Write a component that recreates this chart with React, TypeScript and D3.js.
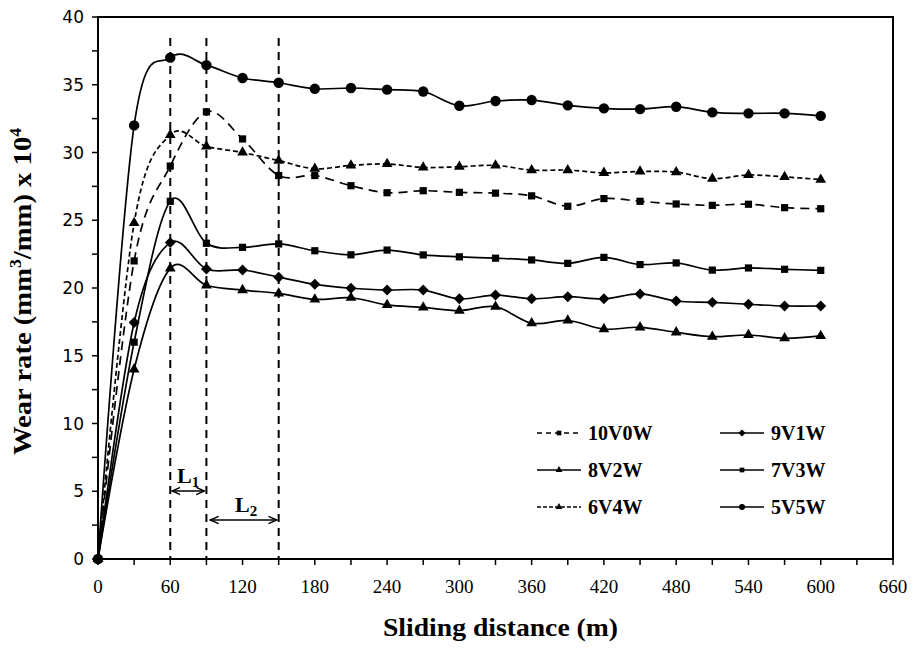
import React from "react";
import * as d3 from "d3";

const DISTANCE = [0, 30, 60, 90, 120, 150, 180, 210, 240, 270, 300, 330, 360, 390, 420, 450, 480, 510, 540, 570, 600];

const S_10V0W = [0, 22.0, 29.0, 33.0, 31.0, 28.3, 28.3, 27.55, 27.03, 27.18, 27.06, 27.0, 26.8, 26.03, 26.6, 26.4, 26.2, 26.1, 26.18, 25.93, 25.85];
const S_9V1W = [0, 17.45, 23.35, 21.4, 21.33, 20.8, 20.27, 19.98, 19.85, 19.85, 19.2, 19.48, 19.2, 19.36, 19.2, 19.56, 19.04, 18.94, 18.8, 18.67, 18.67];
const S_8V2W = [0, 14.0, 21.45, 20.2, 19.85, 19.6, 19.16, 19.28, 18.75, 18.57, 18.33, 18.62, 17.4, 17.6, 16.97, 17.1, 16.73, 16.41, 16.53, 16.29, 16.46];
const S_7V3W = [0, 16.0, 26.4, 23.3, 23.0, 23.25, 22.75, 22.45, 22.8, 22.44, 22.3, 22.2, 22.07, 21.82, 22.26, 21.73, 21.85, 21.32, 21.48, 21.38, 21.3];
const S_6V4W = [0, 24.8, 31.3, 30.45, 30.0, 29.4, 28.8, 29.05, 29.15, 28.9, 28.95, 29.05, 28.7, 28.7, 28.5, 28.6, 28.55, 28.07, 28.34, 28.2, 28.0];
const S_5V5W = [0, 32.0, 37.0, 36.45, 35.5, 35.15, 34.7, 34.76, 34.64, 34.5, 33.45, 33.8, 33.87, 33.48, 33.26, 33.2, 33.38, 32.96, 32.89, 32.89, 32.7];

const SERIES_NAMES = ["10V0W", "9V1W", "8V2W", "7V3W", "6V4W", "5V5W"];
const SERIES_VALUES = [S_10V0W, S_9V1W, S_8V2W, S_7V3W, S_6V4W, S_5V5W];
const SERIES_MARKERS = ["square", "diamond", "triangle", "square", "triangle", "circle"];
const SERIES_DASH = ["9,6", null, null, null, "5,3", null];

const X_TICKS = [0, 60, 120, 180, 240, 300, 360, 420, 480, 540, 600, 660];
const X_MINOR = d3.range(0, 661, 30);
const Y_TICKS = [0, 5, 10, 15, 20, 25, 30, 35, 40];
const Y_MINOR = d3.range(0, 40.01, 2.5);
const REF_LINES = [60, 90, 150];

const W = 913;
const H = 650;
const x = d3.scaleLinear().domain([0, 660]).range([98, 893]);
const y = d3.scaleLinear().domain([0, 40]).range([559, 17]);

function markerPath(kind: string, big: boolean): { d: string; rot: number } {
  if (kind === "circle") return { d: d3.symbol(d3.symbolCircle, big ? 85 : 30)()!, rot: 0 };
  if (kind === "square") return { d: d3.symbol(d3.symbolSquare, big ? 52 : 22)()!, rot: 0 };
  if (kind === "diamond") return { d: d3.symbol(d3.symbolSquare, big ? 60 : 26)()!, rot: 45 };
  return { d: d3.symbol(d3.symbolTriangle, big ? 50 : 20)()!, rot: 0 };
}

const SERIF = "'Liberation Serif', 'Times New Roman', serif";
const SANS = "'DejaVu Sans', Verdana, sans-serif";

export default function App() {
  const line = d3
    .line<number>()
    .x((_, i) => x(DISTANCE[i]))
    .y((v) => y(v))
    .curve(d3.curveCardinal.tension(0));

  const legendRows = [433, 470, 507];
  const legendCols = [537, 720];

  return (
    <svg width={W} height={H} style={{ position: "absolute", left: 0, top: 0, background: "#fff" }}>
      <rect x={0} y={0} width={W} height={H} fill="#fff" />
      {REF_LINES.map((v) => (
        <line key={v} x1={x(v)} x2={x(v)} y1={38} y2={559} stroke="#000" strokeWidth={2} strokeDasharray="8,6" />
      ))}
      {SERIES_VALUES.map((vals, si) => (
        <g key={SERIES_NAMES[si]}>
          <path
            d={line(vals)!}
            fill="none"
            stroke="#000"
            strokeWidth={1.7}
            strokeDasharray={SERIES_DASH[si] || undefined}
          />
          {vals.map((v, i) => {
            const m = markerPath(SERIES_MARKERS[si], true);
            return (
              <path key={i} d={m.d} fill="#000" transform={`translate(${x(DISTANCE[i])},${y(v)}) rotate(${m.rot})`} />
            );
          })}
        </g>
      ))}
      <rect x={x(0)} y={y(40)} width={x(660) - x(0)} height={y(0) - y(40)} fill="none" stroke="#000" strokeWidth={2} />
      {Y_MINOR.map((v) => (
        <line key={"ym" + v} x1={x(0) - 6} x2={x(0)} y1={y(v)} y2={y(v)} stroke="#000" strokeWidth={1.5} />
      ))}
      {Y_TICKS.map((v) => (
        <text key={"yt" + v} x={84} y={y(v)} dy="0.36em" textAnchor="end" fontFamily={SANS} fontSize={17} fill="#000">
          {v}
        </text>
      ))}
      {X_MINOR.map((v) => (
        <line key={"xm" + v} x1={x(v)} x2={x(v)} y1={y(0)} y2={y(0) + 6} stroke="#000" strokeWidth={1.5} />
      ))}
      {X_TICKS.map((v) => (
        <text key={"xt" + v} x={x(v)} y={593} textAnchor="middle" fontFamily={SERIF} fontSize={19} fill="#000">
          {v}
        </text>
      ))}
      <text
        x={383}
        y={636}
        textLength={235}
        lengthAdjust="spacingAndGlyphs"
        fontFamily={SERIF}
        fontWeight="bold"
        fontSize={26}
        fill="#000"
      >
        Sliding distance (m)
      </text>
      <text
        transform={`translate(31,${455}) rotate(-90)`}
        textLength={327}
        lengthAdjust="spacingAndGlyphs"
        fontFamily={SERIF}
        fontWeight="bold"
        fontSize={26}
        fill="#000"
      >
        Wear rate (mm
        <tspan fontSize={16} dy={-10}>3</tspan>
        <tspan dy={10}>/mm) x 10</tspan>
        <tspan fontSize={16} dy={-10}>4</tspan>
      </text>
      <defs>
        <marker id="ah" viewBox="0 0 10 10" refX={9} refY={5} markerWidth={7} markerHeight={7} orient="auto-start-reverse">
          <path d="M0,1 L9,5 L0,9" fill="none" stroke="#000" strokeWidth={1.6} />
        </marker>
      </defs>
      <line x1={x(60) + 2} x2={x(90) - 2} y1={491} y2={491} stroke="#000" strokeWidth={1.3} markerStart="url(#ah)" markerEnd="url(#ah)" />
      <line x1={x(90) + 4} x2={x(150) - 2} y1={520} y2={520} stroke="#000" strokeWidth={1.3} markerStart="url(#ah)" markerEnd="url(#ah)" />
      <text x={177} y={483} fontFamily={SERIF} fontWeight="bold" fontSize={22} fill="#000">
        L<tspan fontSize={15} dy={4}>1</tspan>
      </text>
      <text x={235} y={512} fontFamily={SERIF} fontWeight="bold" fontSize={22} fill="#000">
        L<tspan fontSize={15} dy={4}>2</tspan>
      </text>
      {SERIES_NAMES.map((name, si) => {
        const col = si % 2;
        const row = Math.floor(si / 2);
        const lx = legendCols[col];
        const ly = legendRows[row];
        const m = markerPath(SERIES_MARKERS[si], false);
        return (
          <g key={"lg" + name}>
            <line
              x1={lx}
              x2={lx + 44}
              y1={ly}
              y2={ly}
              stroke="#000"
              strokeWidth={1.7}
              strokeDasharray={SERIES_DASH[si] ? (si === 0 ? "5,4" : "4,2") : undefined}
            />
            <path d={m.d} fill="#000" transform={`translate(${lx + 22},${ly}) rotate(${m.rot})`} />
            <text x={lx + 51} y={ly} dy="0.34em" fontFamily={SERIF} fontWeight="bold" fontSize={20} fill="#000">
              {name}
            </text>
          </g>
        );
      })}
    </svg>
  );
}
